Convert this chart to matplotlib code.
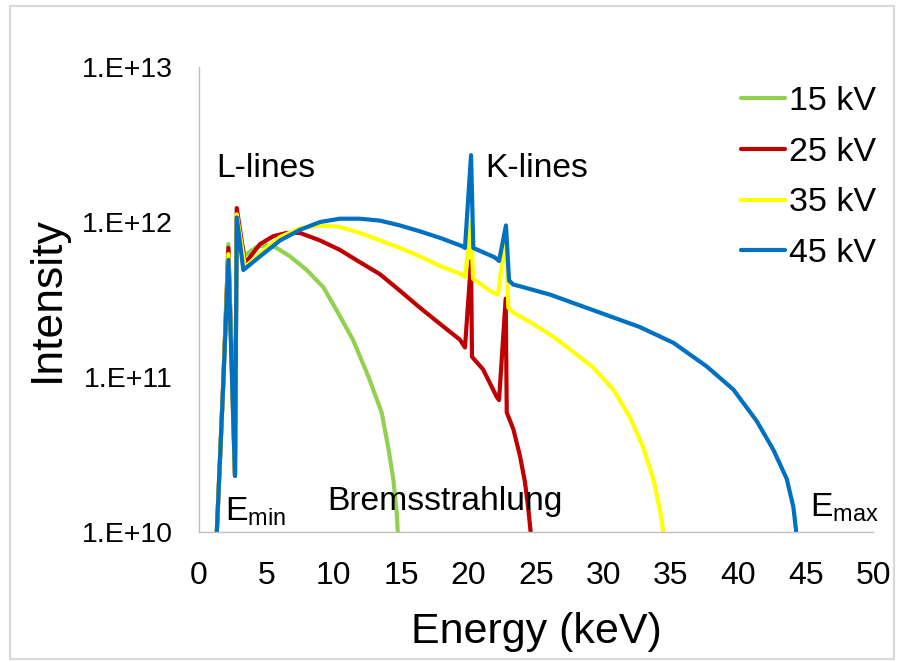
import matplotlib
matplotlib.use("Agg")
import matplotlib.pyplot as plt
from matplotlib.patches import Rectangle

plt.rcParams['font.family'] = ['Liberation Sans', 'DejaVu Sans']
plt.rcParams['mathtext.fontset'] = 'custom'
plt.rcParams['mathtext.rm'] = 'Liberation Sans'
plt.rcParams['mathtext.it'] = 'Liberation Sans'

# ---- data ----
labels = ["15 kV", "25 kV", "35 kV", "45 kV"]
colors = ["#92D050", "#C00000", "#FFFF00", "#0070C0"]

e_15 = [1.3, 1.8, 2.18, 2.67, 2.80, 3.41, 4.28, 5.02, 5.76, 6.75, 7.99, 9.22,
        10.31, 11.42, 12.54, 13.55, 14.04, 14.41, 14.67, 14.74, 14.8]
i_15 = [9e9, 9.1e10, 7.2e11, 2.3e10, 9.5e11, 6.1e11, 6.9e11, 7.1e11, 6.8e11,
        6.0e11, 4.9e11, 3.8e11, 2.6e11, 1.74e11, 1.02e11, 5.9e10, 3.5e10,
        2.2e10, 1.32e10, 1.02e10, 9e9]

e_25 = [1.3, 1.8, 2.18, 2.67, 2.80, 3.41, 4.53, 5.51, 6.51, 7.49, 8.98, 10.46,
        11.94, 13.43, 14.91, 16.39, 17.88, 19.36, 19.73, 20.18, 20.25, 21.07,
        22.1, 22.26, 22.75, 22.83, 23.32, 23.81, 24.18, 24.43, 24.6, 24.65]
i_25 = [9e9, 9.1e10, 6.8e11, 2.3e10, 1.23e12, 5.4e11, 7.2e11, 8.1e11, 8.5e11,
        8.5e11, 7.6e11, 6.6e11, 5.5e11, 4.6e11, 3.6e11, 2.8e11, 2.2e11,
        1.74e11, 1.55e11, 5.6e11, 1.35e11, 1.12e11, 7.4e10, 7.1e10, 3.2e11,
        5.9e10, 4.6e10, 3.1e10, 2.1e10, 1.41e10, 1.0e10, 9e9]

e_35 = [1.3, 1.8, 2.18, 2.67, 2.80, 3.41, 4.53, 6.01, 7.49, 8.98, 10.46, 11.94,
        13.43, 14.91, 16.39, 17.88, 19.49, 19.73, 20.18, 20.33, 21.8, 22.18,
        22.75, 22.95, 23.32, 24.8, 26.28, 27.77, 29.25, 30.73, 31.97, 32.96,
        33.7, 34.2, 34.44, 34.5]
i_35 = [9e9, 9.1e10, 6.2e11, 2.3e10, 1.12e12, 5.1e11, 6.3e11, 8.0e11, 9.1e11,
        9.5e11, 9.3e11, 8.5e11, 7.6e11, 6.8e11, 6.0e11, 5.2e11, 4.6e11, 4.4e11,
        1.0e12, 4.3e11, 3.5e11, 3.4e11, 8.3e11, 2.8e11, 2.6e11, 2.2e11,
        1.82e11, 1.45e11, 1.15e11, 8.3e10, 5.5e10, 3.5e10, 2.2e10, 1.38e10,
        1.0e10, 9e9]

e_45 = [1.3, 1.8, 2.18, 2.67, 2.80, 3.29, 4.53, 6.01, 7.49, 8.98, 10.46, 11.94,
        13.43, 14.91, 16.39, 17.88, 19.49, 19.73, 20.18, 20.35, 21.96, 22.26,
        22.77, 23.0, 23.3, 23.8, 26.04, 29.75, 32.7, 35.2, 37.66, 39.64, 41.37,
        42.6, 43.6, 44.09, 44.29, 44.35]
i_45 = [9e9, 9.1e10, 5.7e11, 2.3e10, 1.07e12, 4.9e11, 6.0e11, 7.6e11, 8.9e11,
        1.0e12, 1.05e12, 1.05e12, 1.02e12, 9.5e11, 8.7e11, 7.9e11, 7.0e11,
        6.8e11, 2.7e12, 6.8e11, 5.9e11, 5.6e11, 9.5e11, 4.2e11, 3.95e11,
        3.85e11, 3.4e11, 2.6e11, 2.1e11, 1.66e11, 1.17e11, 8.3e10, 5.2e10,
        3.4e10, 2.2e10, 1.45e10, 1.02e10, 9e9]

x_ticks = [0, 5, 10, 15, 20, 25, 30, 35, 40, 45, 50]
y_ticks = [1e10, 1e11, 1e12, 1e13]
y_ticklabels = ["1.E+10", "1.E+11", "1.E+12", "1.E+13"]

series_e = [e_15, e_25, e_35, e_45]
series_i = [i_15, i_25, i_35, i_45]

# ---- figure ----
fig = plt.figure(figsize=(8.98, 6.62), dpi=100)
fig.patches.append(Rectangle((0.011, 0.004), 0.985, 0.987, transform=fig.transFigure,
                             fill=False, edgecolor="#D9D9D9", linewidth=1.5))
ax = fig.add_axes([0.2216, 0.1964, 0.7506, 0.7024])

for e, i, c, lab in zip(series_e, series_i, colors, labels):
    ax.plot(e, i, color=c, lw=3.0, label=lab, solid_joinstyle='round',
            solid_capstyle='round')

ax.set_yscale('log')
ax.set_xlim(0, 50)
ax.set_ylim(1e10, 1e13)
ax.set_xticks(x_ticks)
ax.set_xticklabels([str(t) for t in x_ticks])
ax.set_yticks(y_ticks)
ax.set_yticklabels(y_ticklabels)
ax.minorticks_off()
ax.tick_params(axis='x', length=0, pad=21, labelsize=23)
ax.tick_params(axis='y', length=0, pad=19, labelsize=20.5)

for s in ['top', 'right']:
    ax.spines[s].set_visible(False)
for s in ['left', 'bottom']:
    ax.spines[s].set_color("#BFBFBF")
    ax.spines[s].set_linewidth(1.0)

ax.set_xlabel("Energy (keV)", fontsize=31, labelpad=15)
ax.set_ylabel("Intensity", fontsize=32, labelpad=10)

ax.text(1.3, 1.95e12, "L-lines", fontsize=24.2, va='baseline', ha='left')
ax.text(21.2, 1.95e12, "K-lines", fontsize=24.2, va='baseline', ha='left')
ax.text(9.5, 1.39e10, "Bremsstrahlung", fontsize=24.2, va='baseline', ha='left')
ax.text(1.9, 1.19e10, r"E$_{\mathrm{min}}$", fontsize=24.2, va='baseline', ha='left')
ax.text(45.3, 1.25e10, r"E$_{\mathrm{max}}$", fontsize=24.2, va='baseline', ha='left')

leg = ax.legend(loc='upper right', bbox_to_anchor=(1.05, 1.025), frameon=False,
                fontsize=24.5, handlelength=1.3, handletextpad=0.12,
                labelspacing=0.58)

fig.savefig("out.png", dpi=100)
